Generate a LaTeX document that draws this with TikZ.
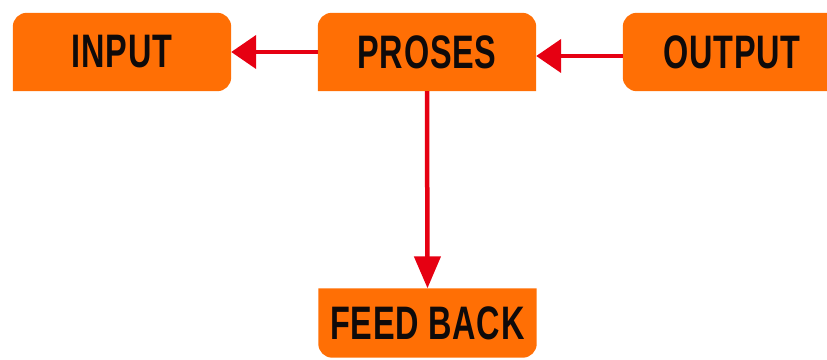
\documentclass[tikz,border=0pt]{standalone}
\usepackage{fontspec}
\newfontfamily\boxfont{Liberation Sans}[FakeStretch=0.69,LetterSpace=1.5]
\usetikzlibrary{arrows.meta,backgrounds}
\definecolor{boxorange}{RGB}{255,111,5}
\definecolor{arrowred}{RGB}{230,0,18}
\definecolor{textdark}{RGB}{15,10,10}
\tikzset{
  boxnode/.style={minimum width=218pt, minimum height=78pt, inner sep=0pt,
    font=\boxfont\bfseries\fontsize{47}{47}\selectfont, text=textdark},
  boxfill/.style={fill=boxorange},
  conn/.style={draw=arrowred, line width=4.5pt,
    -{Triangle[length=25pt,width=33pt]}, shorten >=0pt},
  vconn/.style={draw=arrowred, line width=4.5pt,
    -{Triangle[length=32pt,width=26pt]}}
}
\begin{document}
\begin{tikzpicture}[x=1pt,y=1pt]
\useasboundingbox (0,0) rectangle (827,359);
\node[boxnode] (input) at (122,307) {INPUT};
\node[boxnode] (proses) at (427,307) {PROSES};
\node[boxnode] (output) at (732,307) {OUTPUT};
\node[boxnode, minimum height=69pt] (feed) at (427.5,36) {\raisebox{-3pt}{FEED BACK}};
\begin{scope}[on background layer]
  % INPUT: bottom-left square
  \fill[boxfill] (input.south west) -- ([yshift=-14pt]input.north west)
    arc[start angle=180,end angle=90,radius=14pt]
    -- ([xshift=-14pt]input.north east)
    arc[start angle=90,end angle=0,radius=14pt]
    -- ([yshift=14pt]input.south east)
    arc[start angle=0,end angle=-90,radius=14pt] -- cycle;
  % PROSES: top corners rounded
  \fill[boxfill] (proses.south west) -- ([yshift=-14pt]proses.north west)
    arc[start angle=180,end angle=90,radius=14pt]
    -- ([xshift=-14pt]proses.north east)
    arc[start angle=90,end angle=0,radius=14pt]
    -- (proses.south east) -- cycle;
  % OUTPUT: left corners rounded
  \fill[boxfill] ([xshift=14pt]output.south west)
    arc[start angle=270,end angle=180,radius=14pt]
    -- ([yshift=-14pt]output.north west)
    arc[start angle=180,end angle=90,radius=14pt]
    -- (output.north east) -- (output.south east) -- cycle;
  % FEED BACK: bottom corners rounded
  \fill[boxfill] (feed.north west) -- (feed.north east)
    -- ([yshift=14pt]feed.south east)
    arc[start angle=0,end angle=-90,radius=14pt]
    -- ([xshift=14pt]feed.south west)
    arc[start angle=270,end angle=180,radius=14pt] -- cycle;
\end{scope}
\draw[conn] (proses.west) -- (input.east);
\draw[conn] ([yshift=-4pt]output.west) -- ([yshift=-4pt]proses.east);
\draw[vconn] (proses.south) -- (feed.north);
\end{tikzpicture}
\end{document}
